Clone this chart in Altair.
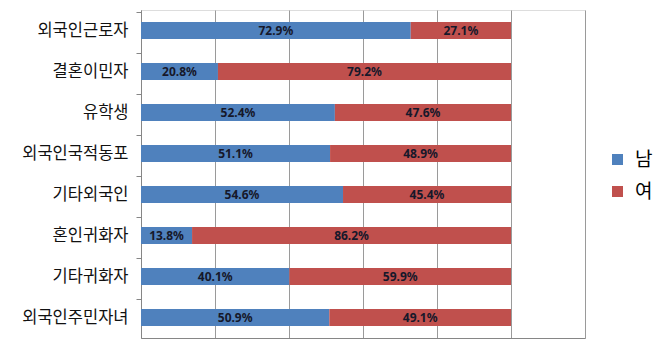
import altair as alt
import pandas as pd

categories = ["외국인근로자", "결혼이민자", "유학생", "외국인국적동포", "기타외국인", "혼인귀화자", "기타귀화자", "외국인주민자녀"]
male = [72.9, 20.8, 52.4, 51.1, 54.6, 13.8, 40.1, 50.9]
female = [27.1, 79.2, 47.6, 48.9, 45.4, 86.2, 59.9, 49.1]
series = ["남", "여"]
colors = ["#4F81BD", "#C0504D"]
grid_values = [0, 20, 40, 60, 80, 100, 120]

rows = []
for c, m, f in zip(categories, male, female):
    rows.append({"category": c, "sex": series[0], "order": 0, "value": m})
    rows.append({"category": c, "sex": series[1], "order": 1, "value": f})
df = pd.DataFrame(rows)

base = alt.Chart(df).transform_stack(
    stack="value", groupby=["category"], as_=["x0", "x1"], sort=[{"field": "order", "order": "ascending"}]
).transform_calculate(
    mid="(datum.x0 + datum.x1) / 2",
    label="format(datum.value, '.1f') + '%'"
)

y_enc = alt.Y("category:N", sort=categories, title=None,
              axis=alt.Axis(labelFont="Noto Sans CJK KR", labelFontSize=16.5, labelColor="#111111",
                            labelPadding=8, tickSize=5, tickColor="#868686", domainColor="#868686",
                            bandPosition=0, grid=False))

bars = base.mark_bar(size=17).encode(
    x=alt.X("x0:Q", scale=alt.Scale(domain=[0, 120], nice=False), title=None,
            axis=alt.Axis(values=grid_values, labels=False, ticks=False, grid=True,
                          gridColor="#9A9A9A", domainColor="#868686", gridWidth=1)),
    x2="x1:Q",
    y=y_enc,
    color=alt.Color("sex:N", scale=alt.Scale(domain=series, range=colors), title=None,
                    legend=alt.Legend(orient="none", legendX=467, legendY=140, symbolType="square",
                                      symbolSize=121, symbolStrokeWidth=0, labelFontSize=19,
                                      labelFont="Noto Sans CJK KR", labelColor="#000000",
                                      rowPadding=12, padding=0, labelOffset=8)),
)

texts = base.mark_text(font="Noto Sans", fontWeight="bold", fontSize=12, color="#16182a").encode(
    x="mid:Q",
    y=alt.Y("category:N", sort=categories),
    text="label:N",
)

chart = (bars + texts).properties(
    width=444, height=328,
    autosize=alt.AutoSizeParams(type="none"),
    padding={"left": 141, "top": 10, "right": 75, "bottom": 15},
).configure_view(stroke=None).configure(background="white")

chart.save("out.html", embed_options={"renderer": "svg", "actions": False})
